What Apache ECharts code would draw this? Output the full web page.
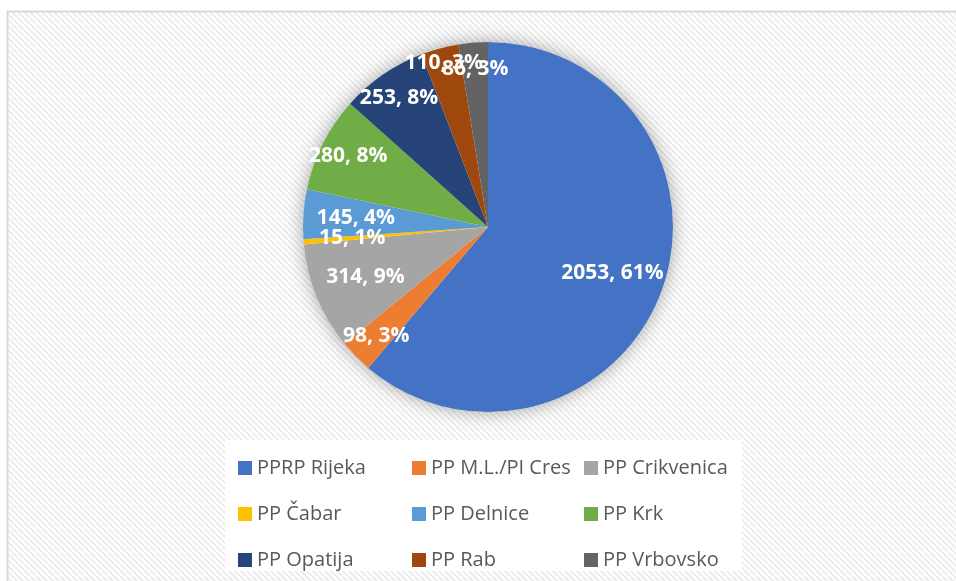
<!DOCTYPE html>
<html>
<head>
<meta charset="utf-8">
<script src="https://cdn.jsdelivr.net/npm/echarts@6/dist/echarts.min.js"></script>
<style>
  html, body { margin: 0; padding: 0; background: #ffffff; }
  #chart { width: 956px; height: 581px; }
</style>
</head>
<body>
<div id="chart"></div>
<script>
const categories = ['PPRP Rijeka', 'PP M.L./PI Cres', 'PP Crikvenica', 'PP Čabar', 'PP Delnice', 'PP Krk', 'PP Opatija', 'PP Rab', 'PP Vrbovsko']
const values = [2053, 98, 314, 15, 145, 280, 253, 110, 86]
const colors = ['#4472C4', '#ED7D31', '#A5A5A5', '#FFC000', '#5B9BD5', '#70AD47', '#264478', '#9E480E', '#636363']

// legend columns (Excel lays it out in 3 columns)
const legendCols = [
  ['PPRP Rijeka', 'PP Čabar', 'PP Opatija'],
  ['PP M.L./PI Cres', 'PP Delnice', 'PP Rab'],
  ['PP Crikvenica', 'PP Krk', 'PP Vrbovsko']
]

const chart = echarts.init(document.getElementById('chart'))

// diagonal hatch used by the chart area
const tile = document.createElement('canvas')
tile.width = 6
tile.height = 6
const ctx = tile.getContext('2d')
ctx.fillStyle = '#ffffff'
ctx.fillRect(0, 0, 6, 6)
ctx.strokeStyle = '#ececec'
ctx.lineWidth = 2
for (let k = -1; k <= 1; k++) {
  ctx.beginPath()
  ctx.moveTo(k * 6, 0)
  ctx.lineTo(k * 6 + 6, 6)
  ctx.stroke()
}

const center = [488, 227]
const R = 185
// how far out (fraction of radius) Excel put each label
const labelPos = {
  'PPRP Rijeka': 0.7, 'PP Crikvenica': 0.7, 'PP Delnice': 0.7, 'PP Čabar': 0.72,
  'PP M.L./PI Cres': 0.83, 'PP Krk': 0.83, 'PP Opatija': 0.83, 'PP Vrbovsko': 0.84,
  'PP Rab': 0.9
}

const pieData = categories.map((name, i) => ({ name: name, value: values[i], itemStyle: { color: colors[i] } }))

// transparent rings, only used to place the labels at a given radius
const rings = [...new Set(Object.values(labelPos))]
const labelSeries = rings.map((m, r) => ({
  type: 'pie',
  center: center,
  radius: [(2 * m - 1) * R, R],
  startAngle: 90,
  silent: true,
  avoidLabelOverlap: false,
  z: 5 + r,
  percentPrecision: 0,
  itemStyle: { color: 'transparent' },
  labelLine: { show: false },
  label: {
    show: true,
    position: 'inside',
    formatter: '{c}, {d}%',
    color: '#ffffff',
    fontFamily: 'Open Sans',
    fontWeight: 'bold',
    fontSize: 21,
    overflow: 'none'
  },
  labelLayout: { hideOverlap: false },
  data: categories.map((name, i) => ({
    name: name,
    value: values[i],
    label: { show: labelPos[name] === m }
  }))
}))

const option = {
  backgroundColor: '#ffffff',
  animation: false,
  color: colors,
  graphic: [
    {
      type: 'rect',
      z: -10,
      shape: { x: 7.5, y: 11.5, width: 960, height: 580 },
      style: { fill: { image: tile, repeat: 'repeat' }, stroke: '#d9d9d9', lineWidth: 2 }
    },
    {
      type: 'rect',
      z: -5,
      shape: { x: 225, y: 440, width: 517, height: 131 },
      style: { fill: '#ffffff' }
    }
  ],
  legend: legendCols.map((col, j) => ({
    data: col,
    orient: 'vertical',
    left: [233, 407, 579][j],
    top: 452,
    itemWidth: 14,
    itemHeight: 14,
    itemGap: 24,
    icon: 'rect',
    selectedMode: false,
    textStyle: { color: '#595959', fontFamily: 'Open Sans', fontSize: 20, lineHeight: 22 }
  })),
  series: [
    {
      // soft shadow behind the pie
      type: 'pie',
      center: center,
      radius: R,
      silent: true,
      z: 1,
      label: { show: false },
      itemStyle: { color: '#ffffff', shadowBlur: 18, shadowColor: 'rgba(0,0,0,0.35)' },
      data: [{ name: '_bg', value: 1 }]
    },
    {
      type: 'pie',
      center: center,
      radius: R,
      startAngle: 90,
      z: 2,
      label: { show: false },
      labelLine: { show: false },
      itemStyle: { borderWidth: 0 },
      data: pieData
    },
    ...labelSeries
  ]
}

chart.setOption(option)
</script>
</body>
</html>
